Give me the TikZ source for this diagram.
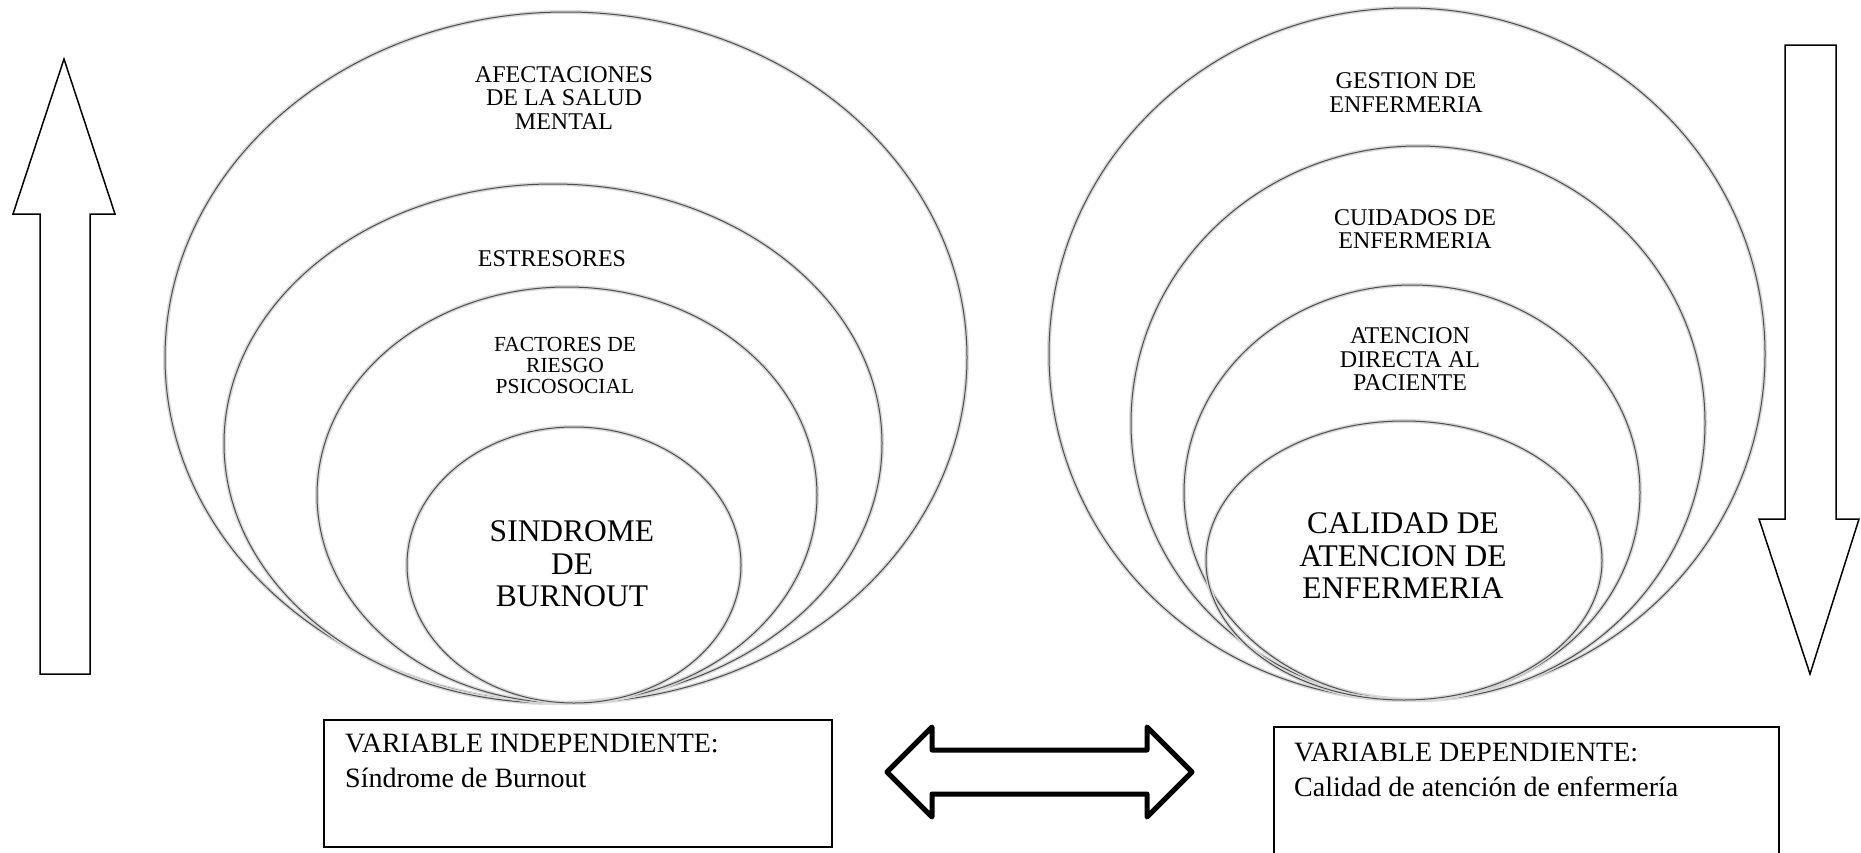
\documentclass[tikz,border=0pt]{standalone}
\usepackage{fontspec}
\setmainfont{Liberation Serif}
\usetikzlibrary{shapes.geometric}
\begin{document}
\begin{tikzpicture}[x=1pt,y=-1pt,
  ring/.style={ellipse, draw=black!70, line width=1pt, inner sep=0pt, outer sep=0pt,
    preaction={draw=black!15, line width=4pt}},
  lbl/.style={align=center, inner sep=0pt, font=\fontsize{24}{23.5}\selectfont},
  lblsm/.style={align=center, inner sep=0pt, font=\fontsize{21.5}{21}\selectfont},
  lblbig/.style={align=center, inner sep=0pt, font=\fontsize{31.5}{32.5}\selectfont},
  varbox/.style={draw=black, line width=1.5pt, inner sep=0pt, outer sep=0pt},
  boxtxt/.style={align=left, inner sep=0pt, anchor=base west, font=\fontsize{28}{35}\selectfont},
  blockarrow/.style={draw=black, line width=1.5pt, line join=miter, fill=white},
  dblarrow/.style={draw=black, line width=5pt, line join=round, fill=white}
]
\useasboundingbox (0,0) rectangle (1861,852);

% left cluster
\node[ring, minimum width=802pt, minimum height=691pt] (L1) at (566,357.5) {};
\node[ring, minimum width=658pt, minimum height=519pt] (L2) at (553,443.5) {};
\node[ring, minimum width=500pt, minimum height=416pt] (L3) at (567,495) {};
\node[ring, minimum width=334pt, minimum height=276pt] (L4) at (574,565) {};

\node[lbl] (tL1) at (564,98) {AFECTACIONES\\DE LA SALUD\\MENTAL};
\node[lbl] (tL2) at (552,259) {ESTRESORES};
\node[lblsm] (tL3) at (565,365) {FACTORES DE\\RIESGO\\PSICOSOCIAL};
\node[lblbig] (tL4) at (572,564) {SINDROME\\DE\\BURNOUT};

% right cluster
\node[ring, minimum width=716pt, minimum height=692pt] (R1) at (1407,354) {};
\node[ring, minimum width=574pt, minimum height=554pt] (R2) at (1418,423) {};
\node[ring, minimum width=456pt, minimum height=415pt] (R3) at (1412,492.5) {};
\node[ring, minimum width=396pt, minimum height=279pt] (R4) at (1404,560.5) {};

\node[lbl] (tR1) at (1406,92.5) {GESTION DE\\ENFERMERIA};
\node[lbl] (tR2) at (1415,229) {CUIDADOS DE\\ENFERMERIA};
\node[lbl] (tR3) at (1410,359.5) {ATENCION\\DIRECTA AL\\PACIENTE};
\node[lblbig] (tR4) at (1403,556) {CALIDAD DE\\ATENCION DE\\ENFERMERIA};

% up arrow (left)
\draw[blockarrow] (64,59) -- (115,214) -- (90,214) -- (90,674) -- (40,674) -- (40,214) -- (13,214) -- cycle;
% down arrow (right)
\draw[blockarrow] (1785,45) -- (1836,45) -- (1836,519) -- (1859,519) -- (1810,674) -- (1759,519) -- (1785,519) -- cycle;

% double arrow
\draw[dblarrow] (887,772) -- (932,727) -- (932,750) -- (1147,750) -- (1147,727) -- (1192,772)
  -- (1147,817) -- (1147,794) -- (932,794) -- (932,817) -- cycle;

% boxes
\node[varbox, anchor=north west, minimum width=508pt, minimum height=127pt] (boxL) at (324,720) {};
\node[boxtxt] (txtL) at (345,787) {VARIABLE INDEPENDIENTE:\\Síndrome de Burnout};
\node[varbox, anchor=north west, minimum width=505pt, minimum height=140pt] (boxR) at (1274,727) {};
\node[boxtxt] (txtR) at (1294,796) {VARIABLE DEPENDIENTE:\\Calidad de atención de enfermería};
\end{tikzpicture}
\end{document}
